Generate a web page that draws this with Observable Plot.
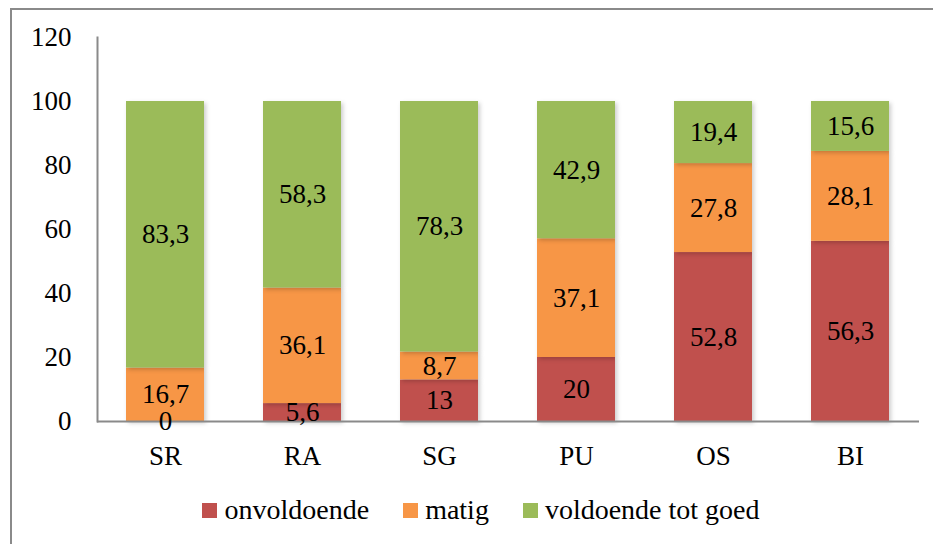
<!DOCTYPE html>
<html>
<head>
<meta charset="utf-8">
<script src="https://cdn.jsdelivr.net/npm/d3@7"></script>
<script src="https://cdn.jsdelivr.net/npm/@observablehq/plot@0.6"></script>
<style>
  html, body { margin: 0; padding: 0; background: #fff; overflow: hidden; width: 933px; height: 544px; }
  #frame { position: absolute; left: 10px; top: 8px; width: 960px; height: 600px; border-left: 2px solid #8a8a8a; border-top: 2px solid #8a8a8a; box-sizing: border-box; }
  #chart { position: absolute; left: 0; top: 0; }
  #chart svg text { font-family: 'Liberation Serif', serif; }
  #legend { position: absolute; left: 0; top: 494px; width: 962px; display: flex; justify-content: center; gap: 34px;
            font-family: 'Liberation Serif', serif; font-size: 28px; color: #000; }
  .item { display: flex; align-items: center; }
  .sw { width: 15px; height: 15px; margin-right: 7px; }
  #chart rect { filter: drop-shadow(2px 2px 2px rgba(0,0,0,0.2)); }
</style>
</head>
<body>
<div id="frame"></div>
<div id="chart"></div>
<div id="legend"></div>
<script>
const categories = ["SR", "RA", "SG", "PU", "OS", "BI"];
const series = ["onvoldoende", "matig", "voldoende tot goed"];
const colors = ["#C0504D", "#F79646", "#9BBB59"];
const onvoldoende = [0, 5.6, 13, 20, 52.8, 56.3];
const matig = [16.7, 36.1, 8.7, 37.1, 27.8, 28.1];
const voldoende = [83.3, 58.3, 78.3, 42.9, 19.4, 15.6];
const yTicks = [0, 20, 40, 60, 80, 100, 120];

const values = [onvoldoende, matig, voldoende];
const data = [];
series.forEach((s, si) => categories.forEach((c, ci) => data.push({cat: c, series: s, value: values[si][ci]})));

const fmt = v => String(v).replace(".", ",");
const FF = "'Liberation Serif', serif";

const chart = Plot.plot({
  width: 933,
  height: 480,
  marginLeft: 97,
  marginRight: 14,
  marginTop: 37,
  marginBottom: 59,
  style: {fontFamily: FF, fontSize: "27px", color: "#000", background: "transparent"},
  x: {domain: categories, paddingInner: 0.43, paddingOuter: 0.215, label: null},
  y: {domain: [0, 120], ticks: yTicks, label: null},
  color: {domain: series, range: colors},
  marks: [
    Plot.barY(data, {x: "cat", y: "value", fill: "series", order: series}),
    Plot.frame({anchor: "left", stroke: "#8a8a8a", strokeWidth: 2}),
    Plot.ruleY([0], {stroke: "#8a8a8a", strokeWidth: 2}),
    Plot.text(data, Plot.stackY({x: "cat", y: "value", z: "series", order: series, text: d => fmt(d.value), fill: "#000", fontSize: 27, fontFamily: FF})),
    Plot.axisY({ticks: yTicks, tickSize: 0, tickPadding: 26, fontSize: 27, fontFamily: FF, label: null}),
    Plot.axisX({tickSize: 0, tickPadding: 24, fontSize: 27, fontFamily: FF, label: null})
  ]
});
document.getElementById("chart").appendChild(chart);

const legend = document.getElementById("legend");
series.forEach((s, i) => {
  const item = document.createElement("div");
  item.className = "item";
  const sw = document.createElement("div");
  sw.className = "sw";
  sw.style.background = colors[i];
  const t = document.createElement("span");
  t.textContent = s;
  item.appendChild(sw);
  item.appendChild(t);
  legend.appendChild(item);
});
</script>
</body>
</html>
